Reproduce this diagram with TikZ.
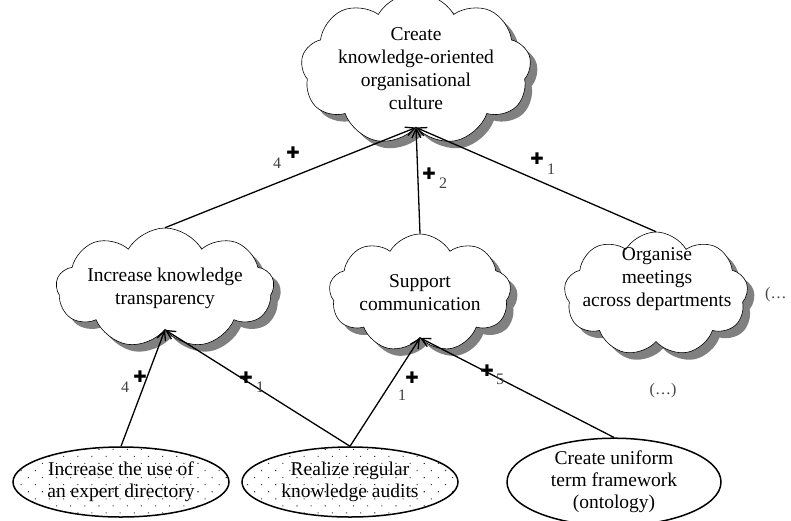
\documentclass[tikz,border=0pt]{standalone}
\usepackage{fontspec}
\setmainfont{Liberation Serif}
\newfontfamily\symfont{DejaVu Sans}
\usetikzlibrary{shapes.symbols,shapes.geometric,shadows,arrows.meta,patterns.meta}

\begin{document}
\begin{tikzpicture}[x=1pt,y=-1pt,
  goal/.style={cloud, cloud puffs=9, cloud puff arc=120, cloud ignores aspect,
    draw=black, line width=0.6pt, fill=white, align=center, inner sep=0pt,
    font=\fontsize{19.5}{23}\selectfont,
    drop shadow={shadow xshift=7pt, shadow yshift=-7pt, fill=black!50, opacity=1}},
  task/.style={ellipse, draw=black, line width=1.5pt, align=center,
    minimum width=216pt, minimum height=70pt, inner sep=0pt,
    font=\fontsize{19.5}{22}\selectfont},
  dotfill/.style={preaction={fill=white},
    pattern={Dots[distance=10pt,angle=45,radius=0.75pt]}, pattern color=black!80},
  contrib/.style={line width=1.3pt, -{Straight Barb[length=9pt,width=9pt]}},
  plus/.style={font=\symfont\fontsize{16}{16}\selectfont, inner sep=0pt},
  weight/.style={font=\fontsize{16}{16}\selectfont, text=black!75, inner sep=0pt},
  txt/.style={align=center, inner sep=0pt, font=\fontsize{19.5}{23}\selectfont},
]
\useasboundingbox (0,0) rectangle (791,520);

% goals (clouds)
\node[goal, minimum width=178pt, minimum height=130pt] (culture) at (416,69)
  {Create\\knowledge-oriented\\organisational\\culture};
\node[goal, minimum width=184pt, minimum height=120pt] (transp) at (165,288)
  {Increase knowledge\\transparency};
\node[goal, minimum width=182pt, minimum height=118pt] (comm) at (420,293)
  {Support\\communication};
\node[goal, minimum width=184pt, minimum height=124pt] (org) at (656,294) {};
\node[txt] (orgtext) at (657,279) {Organise\\meetings\\across departments};

% measures (ellipses)
\node[task, dotfill] (expert) at (121,482) {Increase the use of\\an expert directory};
\node[task, dotfill] (audits) at (350,482) {Realize regular\\knowledge audits};
\node[task, minimum width=214pt, minimum height=72pt] (ontology) at (614,482)
  {Create uniform\\term framework\\(ontology)};

% contributions
\draw[contrib] (transp.north) -- (culture.south);
\draw[contrib] (comm.north) -- (culture.south);
\draw[contrib] (org.north) -- (culture.south);
\draw[contrib] (expert.north) -- (transp.south);
\draw[contrib] (audits.north) -- (transp.south);
\draw[contrib] (audits.north) -- (comm.south);
\draw[contrib] (ontology.north) -- (comm.south);

% contribution signs and weights
\node[plus] (p1) at (293,153) {✚};  \node[weight] (w1) at (277,163) {4};
\node[plus] (p2) at (429,174) {✚};  \node[weight] (w2) at (443,183) {2};
\node[plus] (p3) at (537,159) {✚};  \node[weight] (w3) at (551,169) {1};
\node[plus] (p4) at (140,377) {✚};  \node[weight] (w4) at (125,387) {4};
\node[plus] (p5) at (246,378) {✚};  \node[weight] (w5) at (260,387) {1};
\node[plus] (p6) at (412,378) {✚};  \node[weight] (w6) at (402,395) {1};
\node[plus] (p7) at (487,371) {✚};  \node[weight] (w7) at (500,379) {5};

% omitted elements
\node[weight, anchor=west] (more1) at (765,295) {(…};
\node[weight] (more2) at (663,391) {(…)};
\end{tikzpicture}
\end{document}
